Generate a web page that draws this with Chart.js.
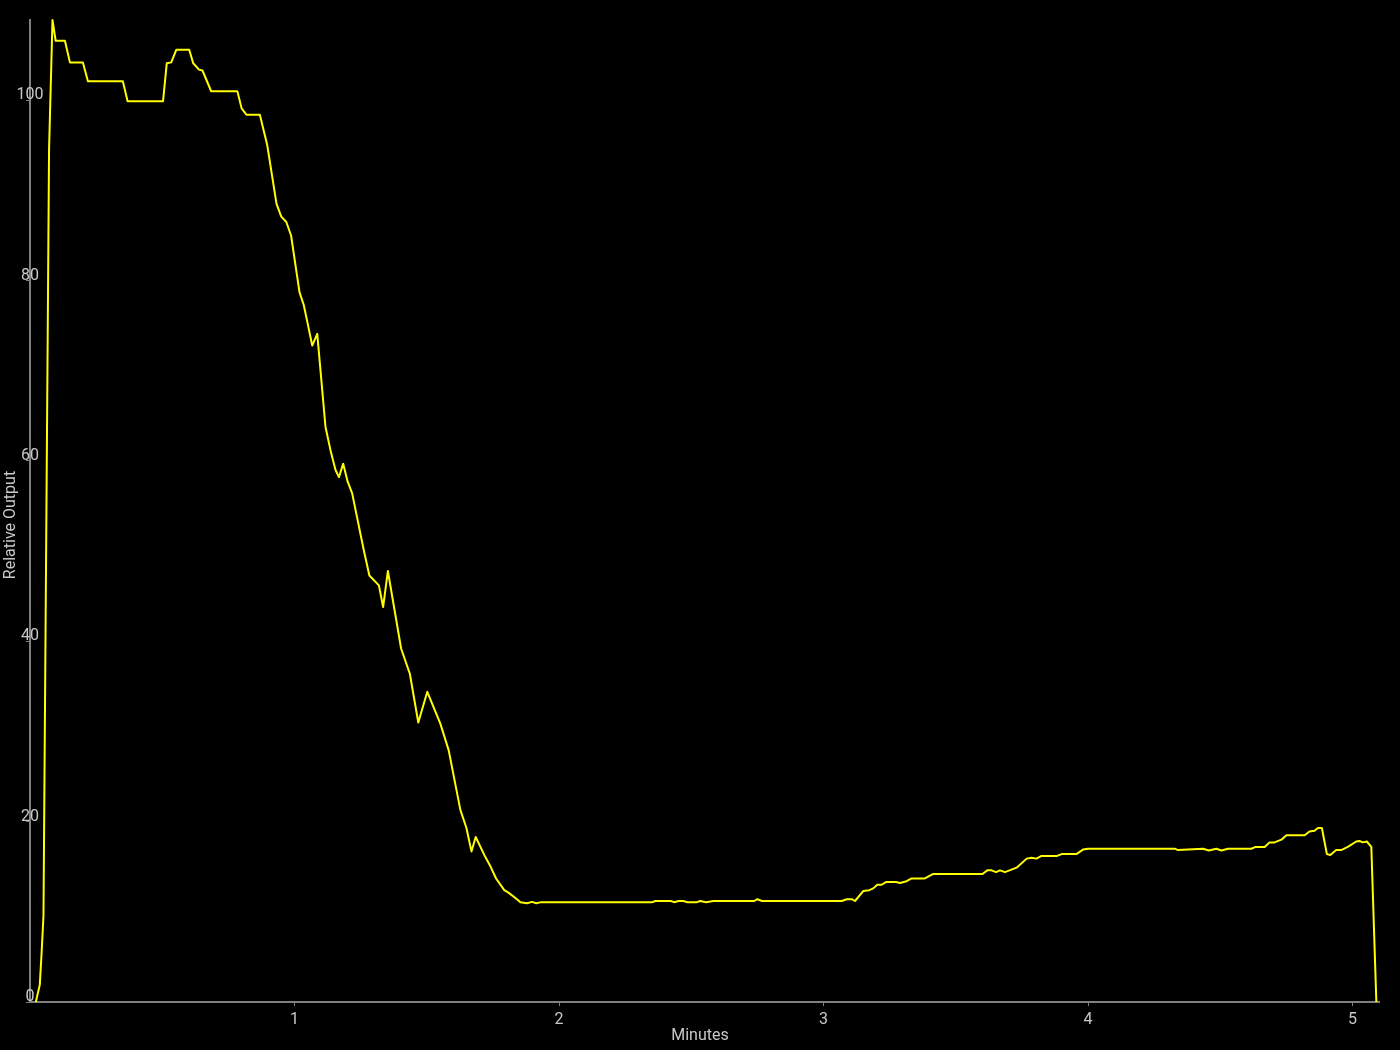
<!DOCTYPE html>
<html><head><meta charset="utf-8">
<script src="https://cdn.jsdelivr.net/npm/chart.js@4.4.0/dist/chart.umd.min.js"></script>
<style>html,body{margin:0;padding:0;background:#000;overflow:hidden}#wrap{width:1400px;height:1050px;position:relative}</style>
</head><body><div id="wrap"><canvas id="c"></canvas></div>
<script>
const minutes = [0.022,0.037,0.044,0.051,0.072,0.085,0.097,0.132,0.151,0.200,0.219,0.351,0.369,0.503,0.517,0.534,0.553,0.602,0.617,0.639,0.652,0.685,0.784,0.800,0.818,0.869,0.897,0.932,0.950,0.969,0.987,1.019,1.035,1.050,1.067,1.086,1.117,1.136,1.155,1.168,1.184,1.201,1.218,1.262,1.283,1.319,1.335,1.353,1.403,1.436,1.468,1.502,1.551,1.583,1.627,1.650,1.669,1.685,1.721,1.738,1.762,1.793,1.810,1.841,1.854,1.879,1.898,1.914,1.929,2.351,2.364,2.423,2.435,2.452,2.470,2.486,2.521,2.534,2.556,2.584,2.738,2.750,2.767,3.069,3.088,3.107,3.119,3.150,3.173,3.188,3.203,3.220,3.236,3.274,3.289,3.314,3.333,3.383,3.415,3.601,3.619,3.635,3.652,3.667,3.686,3.730,3.768,3.786,3.805,3.824,3.883,3.900,3.956,3.981,4.000,4.328,4.340,4.435,4.457,4.485,4.504,4.529,4.617,4.634,4.668,4.686,4.705,4.731,4.750,4.819,4.837,4.856,4.869,4.884,4.903,4.916,4.938,4.957,4.982,5.014,5.026,5.039,5.054,5.071,5.090];
const output = [0,1.9,5.5,9.6,94.5,108.9,106.6,106.6,104.2,104.2,102.1,102.1,99.9,99.9,104.1,104.2,105.6,105.6,104.1,103.4,103.3,101.0,101.0,99.1,98.4,98.4,95.0,88.5,87.1,86.5,85.0,78.7,77.3,75.2,72.8,74.1,63.8,61.2,59.0,58.2,59.7,57.7,56.4,50.1,47.3,46.2,43.8,47.8,39.2,36.4,31.0,34.4,30.9,27.9,21.3,19.3,16.7,18.3,16.1,15.2,13.7,12.4,12.1,11.4,11.05,10.95,11.1,10.95,11.05,11.05,11.2,11.2,11.07,11.2,11.2,11.07,11.07,11.2,11.07,11.2,11.2,11.4,11.2,11.2,11.4,11.4,11.2,12.3,12.4,12.6,13.0,13.0,13.3,13.3,13.2,13.4,13.7,13.7,14.2,14.2,14.6,14.6,14.4,14.6,14.4,14.9,15.9,16.0,15.9,16.2,16.2,16.4,16.4,16.9,17.0,17.0,16.85,17.0,16.8,17.0,16.8,17.0,17.0,17.2,17.2,17.7,17.7,18.0,18.5,18.5,18.9,19.0,19.3,19.3,16.4,16.3,16.85,16.85,17.2,17.8,17.85,17.7,17.8,17.2,0];
const xTicks = [1,2,3,4,5];
const yTicks = [0,20,40,60,80,100];
const xTitle = 'Minutes';
const yTitle = 'Relative Output';

const textColor = '#c8c8c8';
const axisColor = '#808080';
const points = minutes.map((m,i)=>({x:m,y:output[i]}));

const axisTitles = {
  id:'axisTitles',
  afterDraw(chart){
    const ctx = chart.ctx;
    ctx.save();
    ctx.fillStyle = textColor;
    ctx.font = '16px Roboto';
    ctx.textAlign = 'center';
    ctx.textBaseline = 'middle';
    ctx.fillText(xTitle, chart.width/2, chart.height - 14);
    ctx.translate(11, chart.height/2);
    ctx.rotate(-Math.PI/2);
    ctx.fillText(yTitle, 0, 0);
    ctx.restore();
  }
};

new Chart(document.getElementById('c'), {
  type:'line',
  data:{datasets:[{data:points, borderColor:'#ffff00', borderWidth:2, pointRadius:0, tension:0, fill:false, clip:6, borderJoinStyle:'round'}]},
  options:{
    responsive:true, maintainAspectRatio:false, animation:false,
    layout:{padding:{top:20,right:21,left:0,bottom:0}},
    plugins:{legend:{display:false}, tooltip:{enabled:false}},
    scales:{
      x:{type:'linear', min:0, max:5.1,
        afterBuildTicks:s=>{s.ticks = xTicks.map(v=>({value:v}));},
        afterFit:s=>{s.height=48;},
        grid:{drawOnChartArea:false, drawTicks:true, tickLength:4, color:axisColor, lineWidth:1},
        border:{display:true, color:axisColor, width:2},
        ticks:{color:textColor, font:{family:'Roboto', size:16}, padding:4, maxRotation:0, autoSkip:false},
        title:{display:false}
      },
      y:{type:'linear', min:0, max:108.9,
        afterBuildTicks:s=>{s.ticks = yTicks.map(v=>({value:v}));},
        afterFit:s=>{s.width=30;},
        grid:{drawOnChartArea:false, drawTicks:true, tickLength:4, color:axisColor, lineWidth:1},
        border:{display:true, color:axisColor, width:2},
        ticks:{mirror:true, crossAlign:'center', padding:-13.4, labelOffset:-5, color:textColor, font:{family:'Roboto', size:16}, autoSkip:false},
        title:{display:false}
      }
    }
  },
  plugins:[axisTitles]
});
</script></body></html>
